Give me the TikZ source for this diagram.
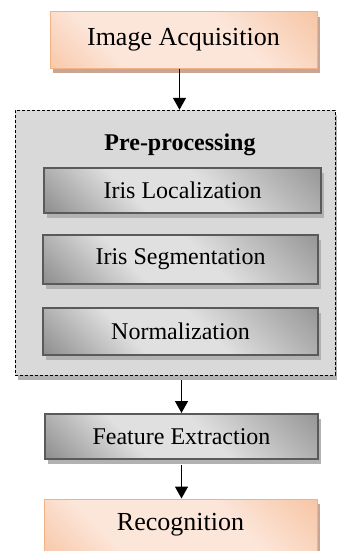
\documentclass[tikz,border=0pt]{standalone}
\usepackage{fontspec}
\setmainfont{Liberation Serif}
\usetikzlibrary{arrows.meta, shadows}

\definecolor{orangeedge}{HTML}{F4B183}
\definecolor{orangelight}{HTML}{FCE6DA}
\definecolor{greydark}{HTML}{5A5A5A}
\definecolor{greymid}{HTML}{727272}
\definecolor{greylight}{HTML}{E0E0E0}
\definecolor{panelgrey}{HTML}{D9D9D9}
\definecolor{shadegrey}{HTML}{B2B2B2}
\definecolor{shadebrown}{HTML}{C9A595}

% diagonal fills of the boxes
\pgfdeclareverticalshading{orangefill}{100bp}{color(0bp)=(orangeedge); color(32bp)=(orangelight);
  color(62bp)=(orangelight); color(100bp)=(orangeedge)}
\pgfdeclareverticalshading{greyfill}{100bp}{color(0bp)=(greydark); color(38bp)=(greylight);
  color(56bp)=(greylight); color(100bp)=(greymid)}

\tikzset{
  outerbox/.style={draw=orangeedge, line width=1pt, shading=orangefill,
    shading angle=-45, font=\fontsize{26}{30}\selectfont,
    drop shadow={shadow xshift=3pt, shadow yshift=-5pt, opacity=1, fill=shadebrown}},
  stagebox/.style={draw=greydark, line width=2pt, shading=greyfill,
    shading angle=-45, font=\fontsize{24}{28}\selectfont,
    drop shadow={shadow xshift=3pt, shadow yshift=-5pt, opacity=1, fill=shadegrey}},
  panel/.style={draw=black, densely dashed, thin, fill=panelgrey,
    drop shadow={shadow xshift=3pt, shadow yshift=-5pt, opacity=1, fill=shadegrey}},
  flow/.style={-{Triangle[width=13pt,length=12pt]}, line width=1.5pt},
}

\begin{document}
\begin{tikzpicture}[x=1pt, y=-1pt]
  \useasboundingbox (0,0) rectangle (337,551);

  % pre-processing panel
  \node[panel, minimum width=320pt, minimum height=265pt, inner sep=0pt] (pre) at (175,242.5) {};
  \node[font=\fontsize{24}{28}\selectfont\bfseries] (pretitle) at (180,145) {Pre-processing};

  % blocks
  \node[outerbox, minimum width=267pt, minimum height=56pt, inner sep=0pt] (acq) at (183.5,40) {Image Acquisition};
  \node[stagebox, minimum width=277pt, minimum height=45pt, inner sep=0pt] (loc) at (182.5,190.5) {Iris Localization};
  \node[stagebox, minimum width=275pt, minimum height=49pt, inner sep=0pt] (seg) at (180.5,259.5) {Iris Segmentation};
  \node[stagebox, minimum width=275pt, minimum height=47pt, inner sep=0pt] (norm) at (180.5,331.5) {Normalization};
  \node[stagebox, minimum width=273pt, minimum height=45pt, inner sep=0pt] (feat) at (181.5,436.5) {Feature Extraction};
  \node[outerbox, minimum width=273pt, minimum height=52pt, inner sep=0pt] (rec) at (180.5,525) {Recognition};

  % arrows
  \draw[flow] ([xshift=-4pt]acq.south) -- ([xshift=-4pt]acq.south |- pre.north);
  \draw[flow] ([yshift=-5pt]pre.south -| feat.north) -- (feat.north);
  \draw[flow] ([yshift=-5pt]feat.south) -- (feat.south |- rec.north);
\end{tikzpicture}
\end{document}
